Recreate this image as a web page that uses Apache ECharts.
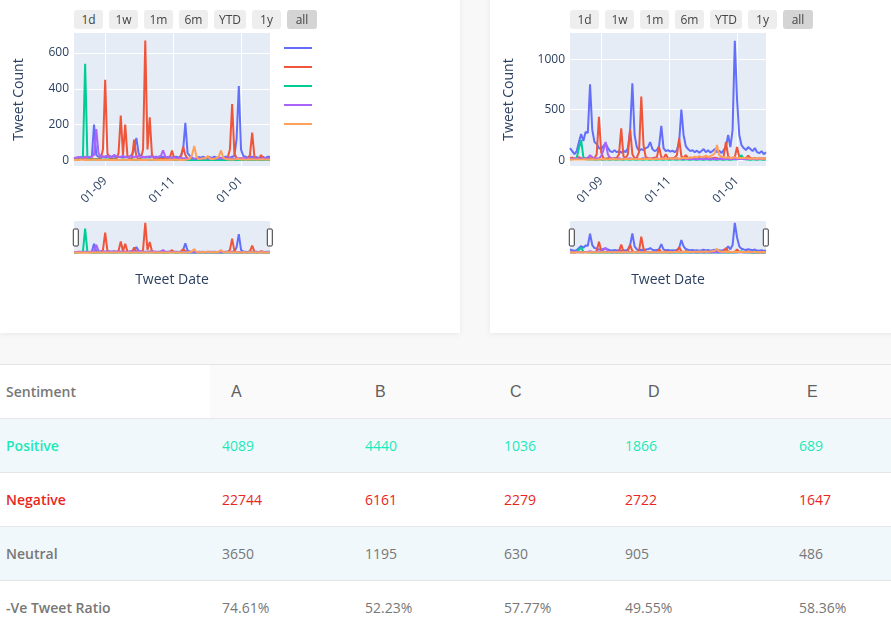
<!DOCTYPE html>
<html>
<head>
<meta charset="utf-8">
<script src="https://cdn.jsdelivr.net/npm/echarts@6.0.0/dist/echarts.min.js"></script>
<style>
html, body { margin: 0; padding: 0; }
body { width: 891px; height: 625px; overflow: hidden; background: #f8f8f8; position: relative; font-family: "Open Sans", sans-serif; }
.card { position: absolute; top: -20px; height: 353px; background: #fff; box-shadow: 0 1px 6px rgba(0,0,0,0.07); }
#cardL { left: 0; width: 460px; }
#cardR { left: 490px; width: 430px; }
.chart { position: absolute; top: 0; height: 333px; }
#chartL { left: 0; width: 460px; }
#chartR { left: 490px; width: 401px; }
.btns { position: absolute; top: 10px; height: 19px; }
.btn { position: absolute; top: 0; height: 19px; line-height: 19px; font-size: 12px; color: #444; background: #eeeeee; border-radius: 3px; text-align: center; }
.btn.on { background: #d4d4d4; }
#table { position: absolute; left: 0; top: 364px; width: 891px; height: 270px; background: #fff; border-top: 1px solid #e4e4e4; }
.row { position: absolute; left: 0; width: 891px; height: 53px; border-bottom: 1px solid #e6e6e6; }
.cell { position: absolute; top: 0; line-height: 53px; font-size: 14px; white-space: nowrap; }
.lab { left: 6px; font-weight: 600; }
.head { font-family: "Liberation Sans", Arial, sans-serif; font-size: 16px; color: #5f5f5f; }
</style>
</head>
<body>
<div class="card" id="cardL"></div>
<div class="card" id="cardR"></div>
<div class="chart" id="chartL"></div>
<div class="chart" id="chartR"></div>
<div class="btns" id="btnsL" style="left:74px"></div>
<div class="btns" id="btnsR" style="left:570px"></div>
<div id="table"></div>
<script>
// ---- chart data (one value every 2 days, starting 2020-08-04) ----
var startDate = [2020, 7, 4];
var stepDays = 2;
var xTickDates = ['2020-09-01', '2020-11-01', '2021-01-01'];
var seriesNames = ['A', 'B', 'C', 'D', 'E'];
var seriesColors = ['#636efa', '#EF553B', '#00cc96', '#ab63fa', '#FFA15A'];
var rangeButtons = ['1d', '1w', '1m', '6m', 'YTD', '1y', 'all'];

var leftA = [10,15,12,18,14,16,20,15,18,200,
	30,20,18,22,15,20,25,18,22,15,
	20,18,15,20,18,22,30,60,125,40,
	20,15,18,20,15,22,18,20,15,18,
	20,15,18,20,15,18,20,15,25,60,
	210,40,25,15,5,10,18,15,20,12,
	15,18,12,20,15,18,12,15,20,18,
	15,20,25,120,415,60,25,20,15,18,
	20,15,18,12,15,18,12,20,18];
var leftB = [5,8,6,10,7,5,8,6,9,7,
	6,8,10,60,450,40,10,8,6,9,
	40,250,30,200,25,8,10,115,20,8,
	10,60,670,60,240,30,10,8,6,9,
	7,10,8,15,55,10,6,8,20,75,
	30,8,6,9,7,5,8,6,10,7,
	6,8,5,9,7,6,8,10,12,15,
	60,315,40,10,8,12,10,8,10,30,
	155,20,8,10,30,8,6,9,7];
var leftC = [3,4,5,6,20,540,20,5,4,3,
	4,3,5,4,3,4,5,3,4,3,
	2,3,4,3,2,3,4,3,2,3,
	3,2,3,4,3,2,3,2,3,2,
	2,3,2,3,2,2,3,2,3,2,
	2,1,2,1,2,1,2,1,2,1,
	1,2,1,2,1,2,1,2,1,2,
	1,2,1,2,1,2,1,2,1,2,
	1,2,1,2,1,2,1,2,1];
var leftD = [12,15,18,14,16,20,15,18,22,30,
	175,40,20,18,22,25,18,20,30,22,
	18,20,25,18,15,20,22,18,20,25,
	18,20,15,18,22,20,18,15,20,25,
	55,20,15,18,12,15,10,12,15,10,
	12,8,10,12,8,10,12,8,10,12,
	10,8,12,10,8,10,12,8,10,12,
	10,12,8,10,12,8,10,12,8,10,
	12,10,8,12,10,8,12,10,8];
var leftE = [2,3,2,4,3,2,3,2,4,3,
	2,3,2,3,4,2,3,2,3,2,
	3,2,4,3,2,3,2,4,3,2,
	3,2,3,2,4,3,2,3,2,3,
	2,3,2,3,2,4,3,2,3,2,
	3,5,8,30,80,20,5,8,12,10,
	25,10,6,8,12,20,55,15,8,5,
	6,4,5,8,6,4,5,3,4,6,
	5,4,3,5,4,6,3,4,5];

var rightA = [120,90,60,90,180,260,190,280,270,750,
	300,180,160,120,110,140,170,120,90,80,
	100,80,90,75,95,80,120,300,760,250,
	130,90,110,100,120,130,180,110,90,100,
	140,340,120,90,100,85,95,80,100,180,
	500,250,140,110,90,100,80,95,75,90,
	110,80,100,75,90,110,80,95,70,100,
	130,250,130,300,1180,600,250,150,120,100,
	130,110,90,120,80,70,90,60,80];
var rightB = [20,25,15,20,30,20,15,20,25,20,
	15,20,60,430,80,20,15,20,25,15,
	20,25,60,315,40,20,60,305,60,20,
	25,80,630,150,30,20,15,20,25,30,
	130,30,20,60,20,15,20,25,50,215,
	40,20,50,20,15,20,25,15,20,25,
	15,20,25,15,20,25,20,15,20,40,
	180,40,20,25,30,130,30,20,15,20,
	45,20,15,20,15,20,15,20,15];
var rightC = [8,10,12,20,120,200,30,10,8,6,
	8,6,5,8,6,5,8,6,5,8,
	6,5,8,6,5,8,6,5,8,6,
	5,8,6,5,8,6,5,8,6,5,
	8,6,5,8,6,5,8,6,5,8,
	6,5,8,6,5,8,6,5,8,6,
	5,8,6,5,8,6,5,8,6,5,
	8,6,5,8,6,10,20,50,15,8,
	6,5,8,6,5,8,6,5,8];
var rightD = [15,12,18,14,20,16,15,18,20,50,
	30,15,20,18,40,100,180,60,20,15,
	18,15,20,12,15,18,15,20,12,15,
	18,12,15,20,12,15,18,12,15,20,
	12,15,18,12,15,20,12,15,18,12,
	15,18,12,15,10,12,15,10,12,15,
	10,12,15,10,12,15,10,12,15,10,
	12,15,10,12,15,10,12,15,10,12,
	15,10,12,15,10,12,15,10,12];
var rightE = [5,8,6,10,8,6,8,10,6,8,
	10,8,6,10,8,12,10,8,12,10,
	12,10,8,12,10,15,12,10,15,12,
	10,15,12,10,15,12,15,10,12,15,
	12,15,18,12,15,20,15,18,20,15,
	20,25,18,22,30,25,35,28,40,30,
	35,45,30,40,50,70,150,50,35,30,
	25,30,20,25,30,20,25,20,25,20,
	20,15,20,18,15,20,15,18,15];

// ---- table data ----
var tableCols = ['A', 'B', 'C', 'D', 'E'];
var positiveCounts = [4089, 4440, 1036, 1866, 689];
var negativeCounts = [22744, 6161, 2279, 2722, 1647];
var neutralCounts = [3650, 1195, 630, 905, 486];

function buildDates(n) {
	var out = [];
	for (var i = 0; i < n; i++) {
		out.push(new Date(startDate[0], startDate[1], startDate[2] + i * stepDays).getTime());
	}
	return out;
}

function parseDay(s) {
	var p = s.split('-');
	return new Date(+p[0], +p[1] - 1, +p[2]).getTime();
}

var axisFont = { color: '#2a3f5f', fontSize: 12, fontFamily: 'Open Sans' };

function buildOption(cfg) {
	var dates = buildDates(cfg.data[0].length);
	var ticks = xTickDates.map(parseDay);
	var series = [];
	cfg.data.forEach(function(vals, i) {
		var pts = vals.map(function(v, j) { return [dates[j], v]; });
		series.push({
			name: seriesNames[i], type: 'line', xAxisIndex: 0, yAxisIndex: 0,
			data: pts, symbol: 'none', z: 2 + i,
			lineStyle: { width: 2, color: seriesColors[i] },
			itemStyle: { color: seriesColors[i] }
		});
		// same traces again, squeezed into the range slider strip
		series.push({
			name: seriesNames[i], type: 'line', xAxisIndex: 1, yAxisIndex: 1,
			data: pts, symbol: 'none', silent: true, z: 2 + i,
			lineStyle: { width: 2, color: seriesColors[i] },
			itemStyle: { color: seriesColors[i] }
		});
	});
	var option = {
		animation: false,
		grid: [{
			left: cfg.left, top: 33, width: 196, height: 133,
			show: true, backgroundColor: '#e5ecf6', borderWidth: 0
		}, {
			left: cfg.left, top: 221, width: 196, height: 33,
			show: true, backgroundColor: '#e5ecf6', borderWidth: 0
		}],
		xAxis: [{
			type: 'time', gridIndex: 0, min: 'dataMin', max: 'dataMax',
			axisLine: { show: false },
			axisTick: { show: false, customValues: ticks },
			axisLabel: {
				customValues: ticks, formatter: '{dd}-{MM}', rotate: 45, margin: 13,
				color: axisFont.color, fontSize: 12, fontFamily: axisFont.fontFamily
			},
			splitLine: { show: true, lineStyle: { color: '#ffffff', width: 1 } }
		}, {
			type: 'time', gridIndex: 1, min: 'dataMin', max: 'dataMax',
			axisLine: { show: false }, axisTick: { show: false },
			axisLabel: { show: false }, splitLine: { show: false },
			name: 'Tweet Date', nameLocation: 'middle', nameGap: 19,
			nameTextStyle: { color: '#2a3f5f', fontSize: 14, fontFamily: 'Open Sans' }
		}],
		yAxis: [{
			type: 'value', gridIndex: 0, min: cfg.yMin, max: cfg.yMax,
			name: 'Tweet Count', nameLocation: 'middle', nameGap: cfg.nameGap,
			nameTextStyle: { color: '#2a3f5f', fontSize: 14, fontFamily: 'Open Sans' },
			axisLine: { show: false },
			axisTick: { show: false, customValues: cfg.yTicks },
			axisLabel: {
				customValues: cfg.yTicks, margin: 5, color: axisFont.color, fontSize: 12,
				fontFamily: axisFont.fontFamily,
				formatter: function(v) { return String(v); }
			},
			splitLine: { show: true, lineStyle: { color: '#ffffff', width: 1 } }
		}, {
			type: 'value', gridIndex: 1, min: cfg.yMin, max: cfg.yMax, show: false,
			splitLine: { show: false }
		}],
		dataZoom: [{
			type: 'slider', xAxisIndex: 0, filterMode: 'none',
			left: cfg.left, width: 196, top: 221, height: 33,
			start: 0, end: 100, showDetail: false, showDataShadow: false,
			brushSelect: false, moveHandleSize: 0,
			backgroundColor: 'rgba(0,0,0,0)', fillerColor: 'rgba(0,0,0,0)',
			borderColor: 'rgba(0,0,0,0)',
			handleIcon: 'path://M1,0 H4 Q5,0 5,1 V16 Q5,17 4,17 H1 Q0,17 0,16 V1 Q0,0 1,0 Z',
			handleSize: 17,
			handleStyle: { color: '#ffffff', borderColor: '#333333', borderWidth: 1 }
		}],
		series: series
	};
	if (cfg.legend) {
		option.legend = {
			orient: 'vertical', left: 279, top: 42,
			itemWidth: 28, itemHeight: 2, itemGap: 17, icon: 'rect',
			data: seriesNames, formatter: function() { return ''; },
			selectedMode: false
		};
	}
	return option;
}

var chartL = echarts.init(document.getElementById('chartL'));
chartL.setOption(buildOption({
	left: 74, yMin: -32, yMax: 712, yTicks: [0, 200, 400, 600], nameGap: 48, legend: true,
	data: [leftA, leftB, leftC, leftD, leftE]
}));

var chartR = echarts.init(document.getElementById('chartR'));
chartR.setOption(buildOption({
	left: 80, yMin: -57, yMax: 1258, yTicks: [0, 500, 1000], nameGap: 54, legend: false,
	data: [rightA, rightB, rightC, rightD, rightE]
}));

// range selector buttons
function makeButtons(id) {
	var box = document.getElementById(id);
	var widths = [29, 29, 29, 29, 32, 29, 30];
	var x = 0;
	rangeButtons.forEach(function(label, i) {
		var b = document.createElement('div');
		b.className = 'btn' + (label === 'all' ? ' on' : '');
		b.style.left = x + 'px';
		b.style.width = widths[i] + 'px';
		b.textContent = label;
		box.appendChild(b);
		x += widths[i] + 6;
	});
}
makeButtons('btnsL');
makeButtons('btnsR');

// sentiment table
function buildTable() {
	var t = document.getElementById('table');
	var dataLeft = [222, 365, 504, 625, 799];
	var headLeft = [231, 375, 510, 648, 807];
	var ratio = negativeCounts.map(function(n, i) {
		return (n / (n + positiveCounts[i] + neutralCounts[i]) * 100).toFixed(2) + '%';
	});
	var rows = [
		{ label: 'Sentiment', values: tableCols, color: '#777', bg: '#fff', head: true },
		{ label: 'Positive', values: positiveCounts, color: '#1de9b6', bg: '#f1f8fc' },
		{ label: 'Negative', values: negativeCounts, color: '#e8261e', bg: '#fff' },
		{ label: 'Neutral', values: neutralCounts, color: '#777', bg: '#f1f8fc' },
		{ label: '-Ve Tweet Ratio', values: ratio, color: '#777', bg: '#fff' }
	];
	rows.forEach(function(r, ri) {
		var row = document.createElement('div');
		row.className = 'row';
		row.style.top = (ri * 54) + 'px';
		row.style.background = r.bg;
		if (r.head) {
			var shade = document.createElement('div');
			shade.style.cssText = 'position:absolute;left:210px;top:0;width:681px;height:53px;background:#fafafa;';
			row.appendChild(shade);
		}
		var lab = document.createElement('div');
		lab.className = 'cell lab';
		lab.style.color = r.color;
		lab.textContent = r.label;
		row.appendChild(lab);
		r.values.forEach(function(v, ci) {
			var c = document.createElement('div');
			c.className = 'cell' + (r.head ? ' head' : '');
			c.style.left = (r.head ? headLeft[ci] : dataLeft[ci]) + 'px';
			c.style.color = r.head ? '#5f5f5f' : r.color;
			c.textContent = v;
			row.appendChild(c);
		});
		t.appendChild(row);
	});
}
buildTable();
</script>
</body>
</html>
